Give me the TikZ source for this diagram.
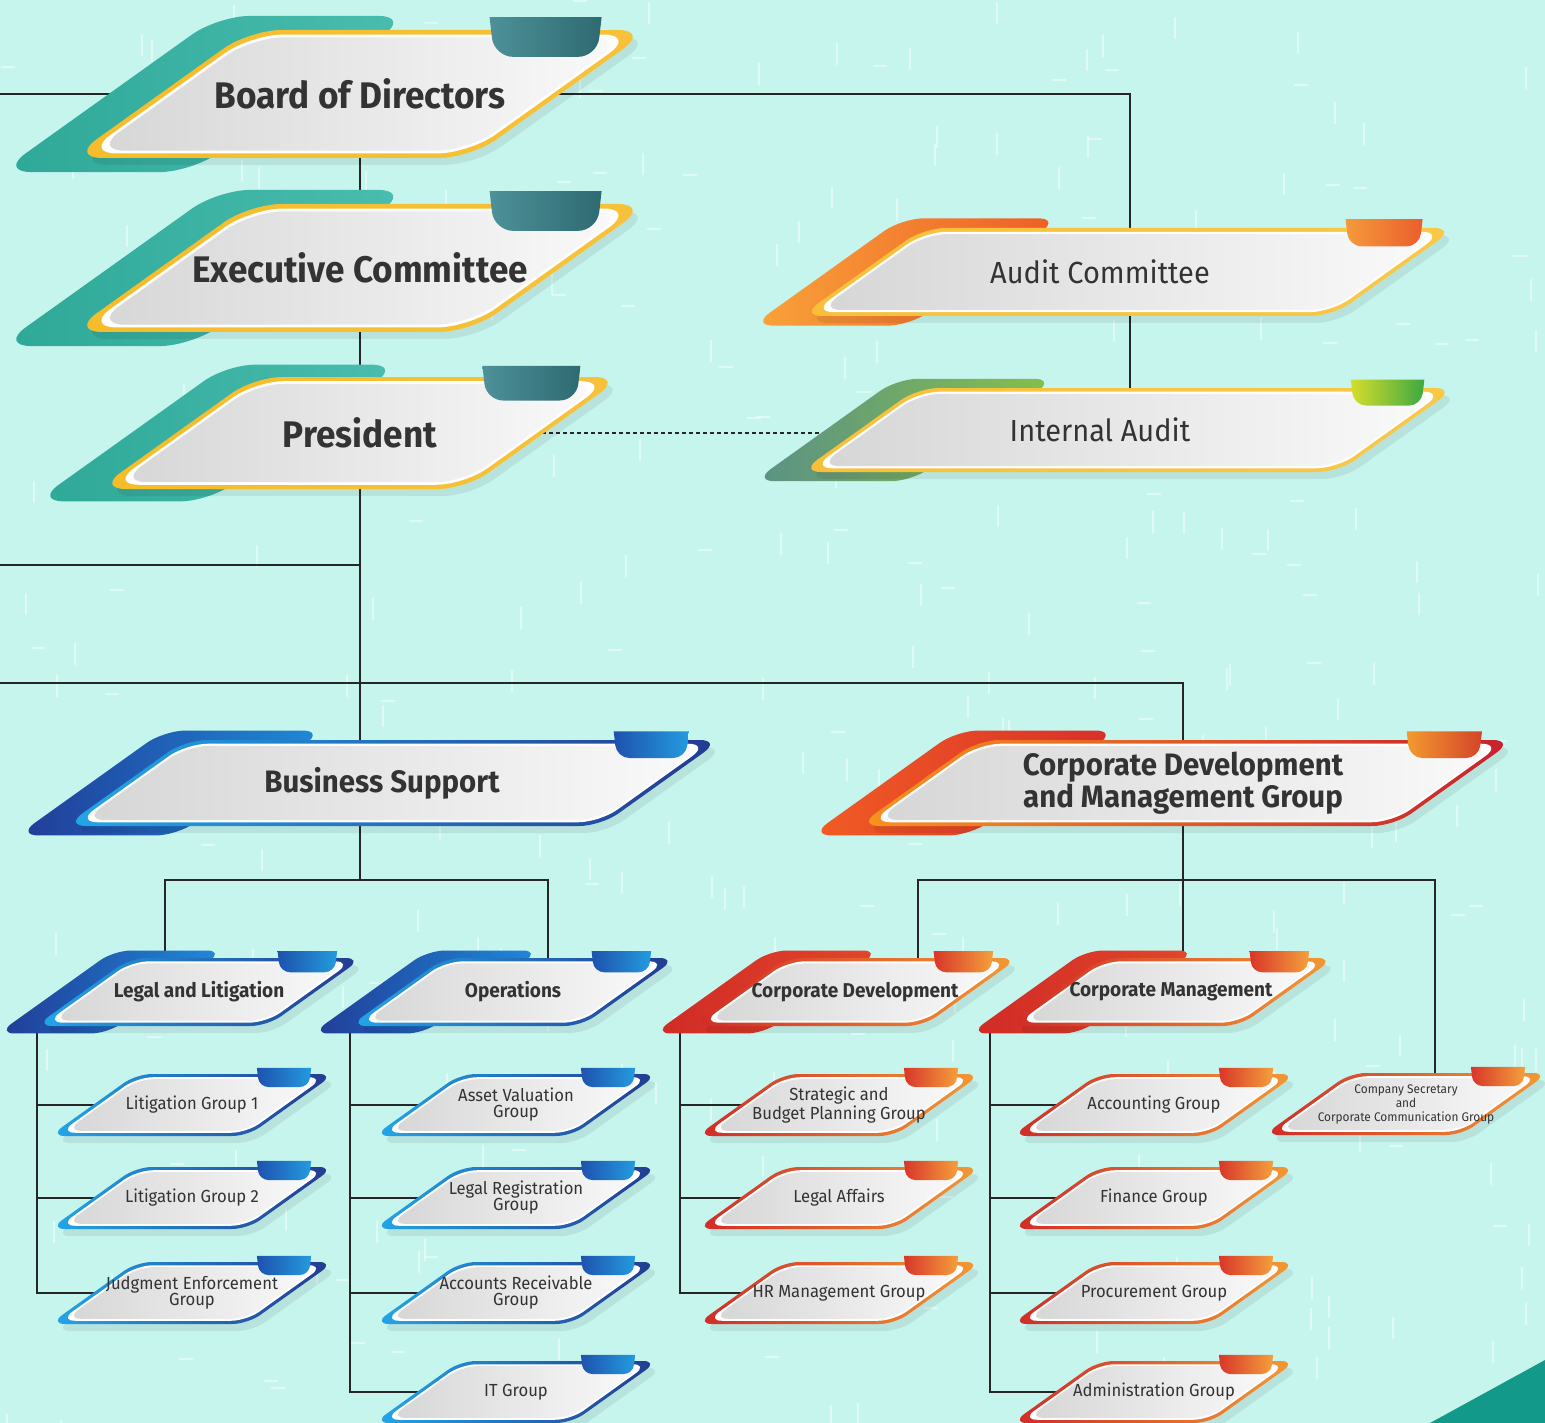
\documentclass[tikz,border=0pt]{standalone}
\usepackage{fontspec}
\setmainfont{Fira Sans}[FakeStretch=0.95]
\definecolor{paper}{HTML}{C6F5EE}
\definecolor{ink}{HTML}{333333}
\definecolor{boxL}{HTML}{D6D6D6}
\definecolor{boxR}{HTML}{FAFAFA}
\definecolor{tealL}{HTML}{F5BC2A}\definecolor{tealR}{HTML}{F7C23A}
\definecolor{tealtabL}{HTML}{2EA898}\definecolor{tealtabR}{HTML}{4ABDAF}
\definecolor{tealcupL}{HTML}{4E9198}\definecolor{tealcupR}{HTML}{2E6A72}
\definecolor{orangeL}{HTML}{F8C03A}\definecolor{orangeR}{HTML}{F9C845}
\definecolor{orangetabL}{HTML}{F9A33A}\definecolor{orangetabR}{HTML}{EE5D26}
\definecolor{orangecupL}{HTML}{F49A3C}\definecolor{orangecupR}{HTML}{EB5E2C}
\definecolor{greenL}{HTML}{F8C03A}\definecolor{greenR}{HTML}{F9C845}
\definecolor{greentabL}{HTML}{5A9186}\definecolor{greentabR}{HTML}{86C04A}
\definecolor{greencupL}{HTML}{D6DD2E}\definecolor{greencupR}{HTML}{3EA83F}
\definecolor{blueL}{HTML}{22A7E8}\definecolor{blueR}{HTML}{233A90}
\definecolor{bluetabL}{HTML}{213C98}\definecolor{bluetabR}{HTML}{1F8AD8}
\definecolor{bluecupL}{HTML}{1E52AE}\definecolor{bluecupR}{HTML}{249BDF}
\definecolor{rubyL}{HTML}{F7931E}\definecolor{rubyR}{HTML}{C8202D}
\definecolor{rubytabL}{HTML}{F25C24}\definecolor{rubytabR}{HTML}{D72F2A}
\definecolor{rubycupL}{HTML}{F39A30}\definecolor{rubycupR}{HTML}{D4432A}
\definecolor{redL}{HTML}{D12A27}\definecolor{redR}{HTML}{F39A33}
\definecolor{redtabL}{HTML}{D02A26}\definecolor{redtabR}{HTML}{E2472A}
\definecolor{redcupL}{HTML}{D8362A}\definecolor{redcupR}{HTML}{F4A03C}
\definecolor{cornerteal}{HTML}{12998A}
\pgfdeclarelayer{paper}
\pgfdeclarelayer{wires}
\pgfsetlayers{paper,wires,main}
\newcommand{\pgram}[4]{({#1-#3+1.4*#4},{#2-#4}) -- ({#1+#3+1.4*#4},{#2-#4}) -- ({#1+#3-1.4*#4},{#2+#4}) -- ({#1-#3-1.4*#4},{#2+#4}) -- cycle}
\newcommand{\orgbox}[9]{%
  \pgfmathsetmacro\obT{2+0.04*#5}\pgfmathsetmacro\obR{0.5*#5}
  \pgfmathsetmacro\obAi{#4-1.72*\obT}\pgfmathsetmacro\obBi{#5-\obT}
  \pgfmathsetmacro\obAw{#4-2.75*\obT}\pgfmathsetmacro\obBw{#5-1.6*\obT}
  \ifnum#9>0
    \pgfmathsetmacro\obTc{#2-#4-0.8*#5+#9/2}
    \shade[left color=#6tabL,right color=#6tabR,rounded corners=\obR] \pgram{\obTc}{#3}{#9/2}{1.22*#5};
  \fi
  \fill[black,opacity=0.07,rounded corners=\obR] \pgram{#2+5}{#3+7}{#4}{#5};
  \shade[left color=#6L,right color=#6R,rounded corners=\obR] \pgram{#2}{#3}{#4}{#5};
  \fill[white,rounded corners=\obR] \pgram{#2}{#3}{\obAi}{\obBi};
  \shade[left color=boxL,right color=boxR,rounded corners=\obR] \pgram{#2}{#3}{\obAw}{\obBw};
  \pgfmathsetmacro\obCx{#2+#4+0.65*#5}\pgfmathsetmacro\obRc{0.3*#5}
  \shade[left color=#6cupL,right color=#6cupR] ({\obCx-1.75*#5},{#3-1.2*#5}) [rounded corners=\obRc] -- ({\obCx-1.68*#5},{#3-0.58*#5}) -- ({\obCx-0.07*#5},{#3-0.58*#5}) [sharp corners] -- ({\obCx},{#3-1.2*#5}) -- cycle;
  \node[boxtext,#7] (#1) at (#2,#3) {#8};
}
\begin{document}
\begin{tikzpicture}[x=1pt,y=-1pt,
  boxtext/.style={inner sep=0pt,align=center,text=ink},
  topfont/.style={font=\fontsize{37}{40}\selectfont\bfseries},
  auditfont/.style={font=\fontsize{30.5}{34}\selectfont},
  midfont/.style={font=\fontsize{31}{29}\selectfont\bfseries},
  lvlthree/.style={font=\fontsize{20}{22}\selectfont\bfseries},
  lvlfour/.style={font=\fontsize{17.5}{16}\selectfont},
  tinyfont/.style={font=\fontsize{12.5}{14}\selectfont},
  wire/.style={line width=2pt,draw=black!85},
  dotline/.style={line width=2pt,draw=black!85,dash pattern=on 4pt off 3pt},
  speck/.style={white,opacity=0.45,line width=2.5pt}]
\useasboundingbox (0,0) rectangle (1545,1423);
\begin{pgfonlayer}{paper}
  \fill[paper] (0,0) rectangle (1545,1423);
  \pgfmathsetseed{11}
  \foreach \i in {1,...,320}{
    \pgfmathtruncatemacro\px{random(0,1545)}
    \pgfmathtruncatemacro\py{random(0,1423)}
    \pgfmathtruncatemacro\dv{random(0,2)}
    \ifnum\dv=0 \draw[speck] (\px,\py) -- ++(14,0); \else \draw[speck] (\px,\py) -- ++(0,22); \fi
  }
  \fill[cornerteal] (1430,1423) -- (1545,1360) -- (1545,1423) -- cycle;
\end{pgfonlayer}

\orgbox{bod}{360}{94}{200}{64}{teal}{topfont}{Board of Directors}{192}
\orgbox{exec}{360}{268}{200}{64}{teal}{topfont}{Executive Committee}{192}
\orgbox{pres}{360}{433}{184}{56}{teal}{topfont}{President}{173}
\orgbox{audit}{1128}{272}{266}{44}{orange}{auditfont,xshift=-28}{Audit Committee}{158}
\orgbox{ia}{1128}{430}{269}{42}{green}{auditfont,xshift=-28}{Internal Audit}{158}
\orgbox{bs}{393}{783}{268}{43}{blue}{midfont,xshift=-11}{Business Support}{160}
\orgbox{cdmg}{1186}{783}{268}{43}{ruby}{midfont,xshift=-3}{Corporate Development\\and Management Group}{160}
\orgbox{ll}{199}{992}{116}{34}{blue}{lvlthree}{Legal and Litigation}{110}
\orgbox{ops}{513}{992}{116}{34}{blue}{lvlthree}{Operations}{112}
\orgbox{cd}{855}{992}{116}{34}{red}{lvlthree}{Corporate Development}{110}
\orgbox{cm}{1171}{992}{116}{34}{red}{lvlthree}{Corporate Management}{110}

\foreach \n/\y/\t in {lgone/1105/Litigation Group 1,lgtwo/1198/Litigation Group 2,jeg/1293/{Judgment Enforcement\\Group}}{
  \orgbox{\n}{192}{\y}{99}{31}{blue}{lvlfour}{\t}{0}}
\foreach \n/\y/\t in {avg/1105/{Asset Valuation\\Group},lrg/1198/{Legal Registration\\Group},arg/1293/{Accounts Receivable\\Group},itg/1392/IT Group}{
  \orgbox{\n}{516}{\y}{99}{31}{blue}{lvlfour}{\t}{0}}
\foreach \n/\y/\t in {sbp/1105/{Strategic and\\Budget Planning Group},lga/1198/Legal Affairs,hrm/1293/HR Management Group}{
  \orgbox{\n}{839}{\y}{99}{31}{red}{lvlfour}{\t}{0}}
\foreach \n/\y/\t in {acg/1105/Accounting Group,fin/1198/Finance Group,prc/1293/Procurement Group,adm/1392/Administration Group}{
  \orgbox{\n}{1154}{\y}{99}{31}{red}{lvlfour}{\t}{0}}
\orgbox{cs}{1406}{1104}{99}{31}{red}{tinyfont}{Company Secretary\\and\\Corporate Communication Group}{0}

\coordinate (lefttop) at (0,94);
\coordinate (leftmid) at (0,565);
\coordinate (leftlow) at (0,683);
\coordinate (bsfork) at (360,880);
\coordinate (cdfork) at (1183,880);
\begin{pgfonlayer}{wires}
  \draw[wire] (bod.center) -- (lefttop);
  \draw[wire] (bod.center) -| ([xshift=30pt]audit.center) -- ([xshift=30pt]ia.center);
  \draw[wire] (bod.center) -- (exec.center) -- (pres.center) -- (pres.center |- bs.center);
  \draw[wire] (leftmid) -| (pres.center);
  \draw[wire] (leftlow) -| (cdmg.center);
  \draw[dotline] (pres.center) -- (pres.center -| ia.center);
  \draw[wire] (pres.center |- bs.center) -- (bsfork);
  \draw[wire] ([xshift=-34pt]ll.center) |- (bsfork) -| ([xshift=35pt]ops.center);
  \draw[wire] (cdmg.center) -- (cdmg.center |- cm.center);
  \draw[wire] ([xshift=63pt]cd.center) |- (cdfork) -| ([xshift=29pt]cs.center);
  \foreach \c in {lgone,lgtwo,jeg}{\draw[wire] ([shift={(-162,38)}]ll.center) |- (\c.center);}
  \foreach \c in {avg,lrg,arg,itg}{\draw[wire] ([shift={(-163,38)}]ops.center) |- (\c.center);}
  \foreach \c in {sbp,lga,hrm}{\draw[wire] ([shift={(-175,38)}]cd.center) |- (\c.center);}
  \foreach \c in {acg,fin,prc,adm}{\draw[wire] ([shift={(-181,38)}]cm.center) |- (\c.center);}
\end{pgfonlayer}
\end{tikzpicture}
\end{document}
